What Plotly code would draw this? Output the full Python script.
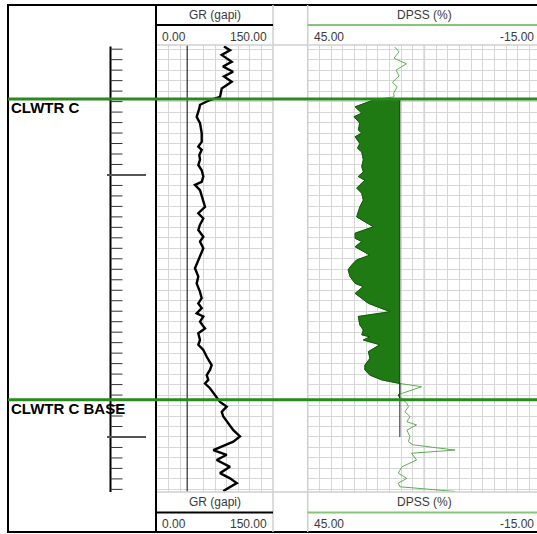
import numpy as np
import plotly.graph_objects as go

W, H = 537, 534

# ---------------- data ----------------
# depth window (ft) and ruler ticks
depth_top, depth_bottom = 4475.2, 4560.5
minor_ticks = list(range(4476, 4561, 2))
major_ticks = [4500, 4550]

# formation tops
top_names = ["CLWTR C", "CLWTR C BASE"]
top_depths = [4485.5, 4542.9]

# gamma ray (gapi)
gr_depth = [4475.5, 4476.2, 4477.1, 4478.4, 4479.3, 4480.3, 4481.2, 4482.2, 4483.5, 4484.4,
            4485.1, 4485.7, 4486.3, 4486.6, 4487.3, 4488.9, 4490.1, 4492.0, 4493.7, 4494.6,
            4495.2, 4496.2, 4497.1, 4498.1, 4499.1, 4500.3, 4501.3, 4501.9, 4502.9, 4504.8,
            4506.1, 4507.3, 4508.3, 4509.5, 4510.5, 4511.8, 4512.7, 4514.0, 4516.2, 4517.8,
            4519.4, 4520.7, 4522.3, 4523.5, 4524.5, 4525.4, 4526.4, 4527.0, 4528.0, 4529.3,
            4530.2, 4531.5, 4532.4, 4533.4, 4534.7, 4536.3, 4537.2, 4538.2, 4539.1, 4539.8,
            4540.7, 4542.0, 4542.6, 4543.3, 4544.2, 4545.2, 4546.1, 4548.7, 4549.9, 4550.9,
            4552.5, 4553.4, 4554.4, 4555.7, 4556.9, 4557.9, 4558.8, 4560.0, 4560.3]
gr_value = [86.6, 94.4, 83.7, 96.6, 85.3, 98.3, 86.6, 96.6, 83.7, 82.4,
            81.5, 68.5, 59.9, 55.6, 54.7, 51.3, 55.6, 57.8, 57.8, 53.4,
            57.8, 54.7, 55.6, 53.4, 57.8, 59.9, 57.8, 49.1, 55.6, 59.9,
            62.1, 53.4, 59.9, 55.6, 53.4, 59.9, 55.6, 59.9, 53.4, 49.1,
            53.4, 51.3, 55.6, 57.8, 53.4, 57.8, 51.3, 59.9, 55.6, 62.1,
            53.4, 55.6, 53.4, 59.9, 64.3, 70.7, 68.5, 64.3, 66.3, 62.1,
            68.5, 75.0, 77.2, 81.5, 90.1, 83.7, 85.7, 98.7, 107.3, 98.7,
            72.8, 90.1, 77.2, 94.4, 81.5, 94.4, 103.1, 90.1, 85.7]
gr_baseline = 39.0

# density porosity, sandstone (%)
dpss_depth = [4475.6, 4476.5, 4477.7, 4478.8, 4480.0, 4481.1, 4482.3, 4483.2, 4484.4, 4485.1,
              4485.6, 4487.0, 4488.2, 4488.9, 4490.1, 4491.4, 4492.0, 4492.7, 4494.0, 4494.9,
              4495.6, 4497.1, 4498.4, 4499.4, 4500.3, 4501.0, 4501.9, 4502.5, 4503.5, 4504.8,
              4506.1, 4507.0, 4508.0, 4509.9, 4511.1, 4512.1, 4512.7, 4513.7, 4515.3, 4516.2,
              4517.2, 4518.1, 4519.4, 4520.7, 4521.3, 4522.6, 4523.5, 4524.5, 4526.1, 4527.0,
              4528.6, 4529.6, 4530.5, 4530.9, 4531.5, 4532.4, 4533.7, 4535.0, 4536.3, 4537.2,
              4538.2, 4539.1, 4539.8, 4540.4, 4541.7, 4542.0, 4542.6, 4543.6, 4544.2, 4545.2,
              4546.1, 4547.1, 4547.7, 4548.7, 4549.9, 4550.9, 4551.5, 4552.5, 4553.1, 4554.4,
              4555.7, 4556.9, 4557.9, 4558.8, 4559.5, 4560.4]
dpss_value = [22.6, 21.5, 22.8, 19.6, 22.3, 21.5, 23.2, 22.0, 22.9, 22.8,
              27.7, 32.8, 31.1, 33.1, 31.6, 32.0, 31.1, 32.8, 31.6, 32.2,
              31.1, 30.7, 31.1, 30.7, 32.0, 30.3, 31.6, 32.4, 31.1, 30.7,
              31.6, 32.0, 32.4, 28.1, 32.8, 32.8, 31.1, 32.8, 29.0, 32.4,
              33.7, 34.6, 34.1, 32.8, 30.7, 32.8, 31.1, 29.4, 23.8, 32.0,
              31.6, 30.7, 31.1, 29.0, 30.7, 26.4, 29.4, 29.0, 30.3, 30.3,
              29.0, 26.0, 21.3, 15.7, 20.8, 21.7, 20.8, 19.5, 19.1, 20.0,
              18.7, 19.5, 17.0, 19.5, 18.7, 19.1, 17.9, 7.1, 18.3, 17.0,
              20.8, 21.7, 19.5, 21.7, 21.3, 7.1]
dpss_cutoff = 21.3
cutoff_base = 4550.0

# track scales
gr_min, gr_max = 0.0, 150.0
dp_left_val, dp_right_val = 45.0, -15.0

# ---------------- layout geometry (pixels) ----------------
GRID_TOP, GRID_BOT = 45, 492
GR_L, GR_R = 157, 273
DP_L, DP_W = 307.7, 233.3          # porosity track continues past the page edge
FONT = "Arial, Liberation Sans, sans-serif"


def px(x):
    return x / W


def py(y):
    return 1 - y / H


dp_visible_end = dp_left_val - (W - DP_L) / DP_W * (dp_left_val - dp_right_val)

GRID_COLOR = "#d6d6d6"
GREEN_TOP = "#2a8a1f"
GREEN_CURVE = "#5cae55"
GREEN_FILL = "#1f7a14"

fig = go.Figure()

# GR baseline and curve
fig.add_trace(go.Scatter(x=[gr_baseline, gr_baseline], y=[depth_top, depth_bottom],
                         xaxis="x", yaxis="y", mode="lines",
                         line=dict(color="black", width=1), hoverinfo="skip"))
fig.add_trace(go.Scatter(x=gr_value, y=gr_depth, xaxis="x", yaxis="y", mode="lines",
                         line=dict(color="black", width=2.4), hoverinfo="skip"))

# DPSS curve
fig.add_trace(go.Scatter(x=dpss_value, y=dpss_depth, xaxis="x2", yaxis="y", mode="lines",
                         line=dict(color=GREEN_CURVE, width=1), hoverinfo="skip"))

# porosity shading inside the zone, between curve and cutoff
d_arr = np.array(dpss_depth)
v_arr = np.array(dpss_value)
zone = (d_arr >= top_depths[0]) & (d_arr <= top_depths[1])
zd = d_arr[zone]
zv = np.maximum(v_arr[zone], dpss_cutoff)
fill_x = [dpss_cutoff] + list(zv) + [dpss_cutoff]
fill_y = [top_depths[0]] + list(zd) + [zd[-1]]
fig.add_trace(go.Scatter(x=fill_x, y=fill_y, xaxis="x2", yaxis="y", mode="lines",
                         fill="toself", fillcolor=GREEN_FILL,
                         line=dict(color="#145a0c", width=1), hoverinfo="skip"))

# cutoff line
fig.add_trace(go.Scatter(x=[dpss_cutoff, dpss_cutoff], y=[top_depths[0], cutoff_base],
                         xaxis="x2", yaxis="y", mode="lines",
                         line=dict(color="#222222", width=1), hoverinfo="skip"))

shapes = []


def pline(x0, y0, x1, y1, color, width, layer="above"):
    shapes.append(dict(type="line", xref="paper", yref="paper",
                       x0=px(x0), y0=py(y0), x1=px(x1), y1=py(y1),
                       line=dict(color=color, width=width), layer=layer))


# outer frame and column borders
shapes.append(dict(type="rect", xref="paper", yref="paper",
                   x0=px(8), y0=py(532), x1=px(W + 10), y1=py(5),
                   line=dict(color="black", width=2), layer="above"))
pline(GR_R, 5, GR_R, 532, "#cfcfcf", 1.5)
pline(DP_L, 5, DP_L, 532, "#cfcfcf", 1.5)
pline(GR_L, GRID_TOP, W, GRID_TOP, "#cfcfcf", 1.5)
pline(GR_L, GRID_BOT, W, GRID_BOT, "#cfcfcf", 1.5)
pline(156, 5, 156, 532, "black", 2)

# header / footer scale bars
for yb in (25, 512.5):
    pline(GR_L, yb, GR_R, yb, "black", 2)
    pline(DP_L, yb, W + 5, yb, "#86c47e", 2)

# darker mid-scale grid line in porosity track
shapes.append(dict(type="line", xref="x2", yref="paper", x0=15, x1=15,
                   y0=py(GRID_BOT), y1=py(GRID_TOP),
                   line=dict(color="#bdbdbd", width=1.5), layer="below"))

# depth ruler
RULER_X = 110.5
shapes.append(dict(type="line", xref="paper", yref="y", x0=px(RULER_X), x1=px(RULER_X),
                   y0=depth_top + 0.3, y1=depth_bottom,
                   line=dict(color="black", width=2), layer="above"))
for d in minor_ticks:
    shapes.append(dict(type="line", xref="paper", yref="y", x0=px(RULER_X), x1=px(122.5),
                       y0=d, y1=d, line=dict(color="#333333", width=1), layer="above"))
for d in major_ticks:
    shapes.append(dict(type="line", xref="paper", yref="y", x0=px(107), x1=px(146),
                       y0=d, y1=d, line=dict(color="#555555", width=2), layer="above"))

# formation tops
for d in top_depths:
    shapes.append(dict(type="line", xref="paper", yref="y", x0=px(8), x1=1,
                       y0=d, y1=d, line=dict(color=GREEN_TOP, width=3), layer="above"))

annotations = []
for name, d in zip(top_names, top_depths):
    annotations.append(dict(text=f"<b>{name}</b>", xref="paper", yref="y",
                            x=px(9), y=d, xanchor="left", yanchor="middle", yshift=-9,
                            showarrow=False,
                            font=dict(family=FONT, size=15, color="black")))


def ptext(text, x, y, anchor, size=12, color="#3a3a3a"):
    annotations.append(dict(text=text, xref="paper", yref="paper", x=px(x), y=py(y),
                            xanchor=anchor, yanchor="middle", showarrow=False,
                            font=dict(family=FONT, size=size, color=color)))


for ty, sy in ((15, 37), (502, 523.5)):
    ptext("GR (gapi)", (GR_L + GR_R) / 2, ty, "center")
    ptext(f"{gr_min:.2f}", 160, sy, "left")
    ptext(f"{gr_max:.2f}", 269, sy, "right")
    ptext("DPSS (%)", DP_L + DP_W / 2, ty, "center")
    ptext(f"{dp_left_val:.2f}", 311.5, sy, "left")
    ptext(f"{dp_right_val:.2f}", 535.5, sy, "right")

gr_grid = [v for v in np.arange(15, 150, 15) if v != 45]
dp_grid = list(np.arange(42, -15, -3))

fig.update_layout(
    width=W, height=H, margin=dict(l=0, r=0, t=0, b=0),
    paper_bgcolor="white", plot_bgcolor="white", showlegend=False,
    xaxis=dict(domain=[px(GR_L), px(GR_R)], range=[gr_min, gr_max], anchor="y",
               tickmode="array", tickvals=gr_grid, showgrid=True, gridcolor=GRID_COLOR,
               gridwidth=1.3, showticklabels=False, ticks="", zeroline=False,
               showline=False, fixedrange=True),
    xaxis2=dict(domain=[px(DP_L), 1], range=[dp_left_val, dp_visible_end], anchor="y",
                tickmode="array", tickvals=dp_grid, showgrid=True, gridcolor=GRID_COLOR,
                gridwidth=1.3, showticklabels=False, ticks="", zeroline=False,
                showline=False, fixedrange=True),
    yaxis=dict(domain=[py(GRID_BOT), py(GRID_TOP)], range=[depth_bottom, depth_top],
               tickmode="linear", tick0=minor_ticks[0], dtick=2, showgrid=True,
               gridcolor=GRID_COLOR, gridwidth=1.3, showticklabels=False, ticks="",
               zeroline=False, showline=False, fixedrange=True),
    shapes=shapes,
    annotations=annotations,
)

fig.write_html("out.html")
